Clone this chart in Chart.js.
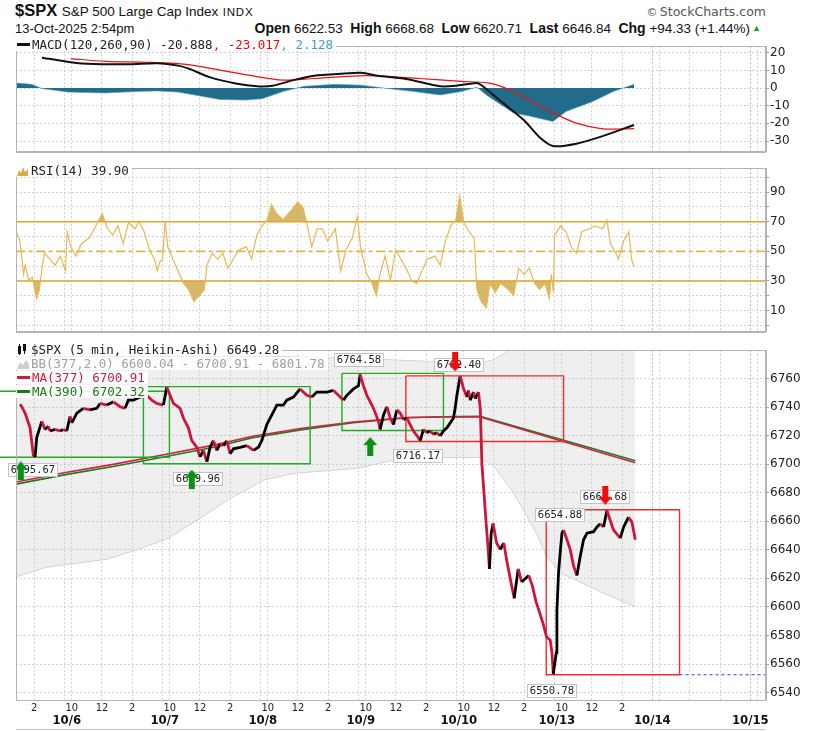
<!DOCTYPE html>
<html><head><meta charset="utf-8">
<script src="https://cdn.jsdelivr.net/npm/chart.js@4.4.1/dist/chart.umd.min.js"></script>
<style>
html,body{margin:0;padding:0;background:#fff;}
#wrap{position:relative;width:822px;height:731px;overflow:hidden;background:#fff;}
canvas{position:absolute;left:0;display:block;}
.t{position:absolute;white-space:nowrap;color:#111;font-family:'Liberation Sans',Arial,sans-serif;}
.lg{position:absolute;left:16px;white-space:nowrap;font:12.5px 'DejaVu Sans Mono',monospace;line-height:13px;background:rgba(255,255,255,0.92);padding:0 3px 0 1px;color:#222;}
.sw{display:inline-block;width:13px;height:3px;vertical-align:middle;margin:0 2px 2px 0;}
b{font-weight:bold;}
</style></head><body>
<div id="wrap">
  <canvas id="macd" width="822" height="122" style="top:38px"></canvas>
  <canvas id="rsi" width="822" height="180" style="top:160px"></canvas>
  <canvas id="price" width="822" height="389" style="top:342px"></canvas>
  <div style="position:absolute;left:16px;top:729px;width:750px;height:1px;background:#c8c8c8;"></div>

  <div class="t" style="left:15px;top:1px;"><span style="font-weight:bold;font-size:16.5px;">$SPX</span> <span style="font-size:13.5px;">S&amp;P 500 Large Cap Index</span> <span style="font-size:11.5px;letter-spacing:0.8px;">INDX</span></div>
  <div class="t" style="left:15px;top:21px;font-size:13px;">13-Oct-2025 2:54pm</div>
  <div class="t" style="right:72px;top:20px;font-size:13.5px;"><b style="font-size:14px">Open</b> 6622.53&nbsp; <b style="font-size:14px">High</b> 6668.68&nbsp; <b style="font-size:14px">Low</b> 6620.71&nbsp; <b style="font-size:14px">Last</b> 6646.84&nbsp; <b style="font-size:14px">Chg</b> +94.33 (+1.44%)</div>
  <div class="t" style="left:752px;top:23px;font-size:9px;color:#1a9a3a;">&#9650;</div>
  <div class="t" style="right:56px;top:4px;font:12.5px 'DejaVu Sans',sans-serif;color:#555;"><span style="font-size:11px">&copy;</span>&thinsp;StockCharts.com</div>

  <div class="lg" style="top:38px;"><span class="sw" style="background:#111"></span>MACD(120,260,90) -20.888<span style="color:#f00">, -23.017</span><span style="color:#3b9fd6">, 2.128</span></div>
  <div class="lg" style="top:164px;"><svg width="12" height="10" style="vertical-align:-1px;margin-right:2px"><path d="M0 10 L2 4 L4 7 L6 1 L8 6 L11 3 L11 10Z" fill="#d6ae46"/></svg>RSI(14) 39.90</div>
  <div class="lg" style="top:343px;"><svg width="12" height="11" style="vertical-align:-1px;margin-right:2px"><rect x="1" y="2" width="3" height="8" fill="#111"/><rect x="6" y="0" width="3" height="7" fill="#111"/><rect x="2" y="0" width="1" height="11" fill="#111"/><rect x="7" y="0" width="1" height="10" fill="#111"/></svg>$SPX (5 min, Heikin-Ashi) 6649.28</div>
  <div class="lg" style="top:357px;color:#a0a0a0;"><svg width="12" height="10" style="vertical-align:-1px;margin-right:2px"><path d="M0 10 L3 3 L6 6 L9 1 L12 5 L12 10Z" fill="#cfcfcf"/></svg>BB(377,2.0) 6600.04 - 6700.91 - 6801.78</div>
  <div class="lg" style="top:371px;color:#d01c3c;"><span class="sw" style="background:#d01c3c"></span>MA(377) 6700.91</div>
  <div class="lg" style="top:385px;color:#1d7a1d;"><span class="sw" style="background:#1d7a1d"></span>MA(390) 6702.32</div>
</div>
<script>
// ---------------- data ----------------
const barsPerDay = 78;                       // 5-min bars per session (9:30-16:00)
const dayNames  = ['10/3','10/6','10/7','10/8','10/9','10/10','10/13','10/14','10/15'];
const dayIndex  = [-1, 0, 1, 2, 3, 4, 5, 6, 7];
const lastTradingDay = 5;
const hourLabels  = ['10','12','2'];
const hourOffsets = [6, 30, 54];             // bars after 9:30
const xRange = [-38.4, 558.5];               // bar index range shown

// price (Heikin-Ashi close path), x = bar index from 10/6 09:30
const priceX = [-35.2,-33.8,-31.2,-27.2,-24.6,-23.2,-21.9,-17.9,-15.3,-12.7,-11.3,-7.3,-3.3,-0.7,2.0,4.6,6.0,10.0,15.2,20.5,25.9,28.5,33.8,39.1,44.4,48.4,51.0,55.0,60.4,65.7,69.7,73.6,78.9,81.6,84.2,86.9,92.2,94.8,98.8,101.5,105.5,108.1,110.7,113.5,116.1,118.7,121.4,124.0,126.7,129.4,132.0,134.6,140.0,145.3,150.6,154.5,157.2,161.2,165.2,169.2,174.4,177.1,182.4,187.7,193.1,197.1,201.0,203.7,209.0,214.3,219.6,222.2,224.9,230.2,234.2,235.5,238.1,240.8,243.5,246.1,250.1,251.4,254.1,256.8,259.4,262.0,264.7,267.4,270.0,272.7,275.3,277.9,281.9,283.3,285.9,288.6,291.2,293.9,296.6,299.2,301.8,304.5,307.2,309.8,311.1,312.5,315.1,317.8,320.5,321.7,323.1,325.7,327.1,329.7,331.1,332.4,335.6,337.0,338.4,339.8,341.3,344.1,347.0,349.8,352.5,355.5,358.1,361.3,364.0,366.9,369.7,372.4,375.4,378.0,381.2,383.9,386.8,388.2,389.2,391.6,392.1,393.4,394.7,396.1,397.4,400.1,402.7,405.3,408.0,410.7,413.3,416.0,421.3,424.0,426.6,429.2,431.9,434.5,437.2,442.5,445.2,449.1,451.8,454.5];
const priceY = [6742,6740.2,6735.7,6725.4,6706.1,6705,6718.6,6730,6724.3,6726.6,6723.2,6724.3,6723.2,6724.3,6723.2,6733.4,6728.9,6735.7,6739.1,6738,6739.1,6742.5,6741.4,6743.6,6740.2,6739.1,6744.8,6744.8,6747,6748.2,6744.8,6742.5,6741.4,6753.9,6748.2,6742.5,6739.1,6732.3,6725.4,6716.4,6711.8,6705,6709.6,6701.6,6711.8,6716.4,6709.6,6714.1,6713,6716.4,6707.3,6710.7,6711.8,6713,6709.6,6711.8,6716.4,6727.7,6734.5,6741.4,6741.4,6744.8,6747,6752.7,6748.2,6747,6750.5,6750.5,6750.5,6751.6,6747,6744.8,6748.2,6752.7,6755,6762.9,6755,6748.2,6743.6,6739.1,6730,6724.3,6734.5,6740.2,6732.3,6727.7,6738,6735.7,6731.2,6732.3,6727.7,6723.2,6718.6,6716.4,6724.3,6722,6723.2,6720.9,6722,6719.8,6723.2,6725.4,6728.9,6732.3,6739.1,6748.2,6761.8,6752.7,6747,6751.6,6744.8,6750.5,6745.9,6750.5,6739.1,6700,6660.7,6644.8,6626.6,6651.6,6658.4,6644.8,6640.2,6644.8,6631,6617.5,6606,6626.6,6617.5,6619.8,6622,6615.3,6603.9,6597,6588,6578.9,6576.6,6567.6,6553,6568,6597,6624.3,6637.9,6651.6,6653.8,6647,6640.2,6628.9,6622,6635.7,6647,6651.6,6652.7,6656,6658.3,6656,6667.5,6660.7,6653.8,6648.2,6656,6662.8,6659.4,6647];

const maX   = [-38.4,0,40,76,120,150,188,230,273,300,331,454.5];
const ma377 = [6687.5,6694,6700,6706,6713.5,6719.5,6725,6729.5,6732.7,6733,6733,6700.9];
const ma390 = [6686,6692.5,6698.5,6704.5,6712,6718.5,6724,6729,6732.5,6733.2,6733.5,6702.3];

const bbX     = [-38.4,-14.5,5.4,34.1,62.7,82.6,108.1,131.2,147.9,159.1,184.6,233.1,261.8,290.5,330.3,341.5,358.2,375.7,383.6,394.7,426.6,454.5];
const bbUpper = [6782,6781,6780,6780,6779,6778,6778,6777,6777,6776,6775,6774,6773,6772,6771,6773,6782,6794,6804,6812,6807,6801.8];
const bbLower = [6621,6627.7,6630,6633.4,6641.4,6648,6662,6675.5,6683.5,6689,6693.7,6697,6702.7,6704.6,6704.6,6699,6679,6651.6,6636,6624,6610.7,6600];

const rsiX = [-38.6,-35.3,-33.6,-32.4,-31.1,-28.2,-25.3,-23.6,-21.9,-19.8,-17.7,-15.7,-11.5,-7.3,-3.1,1.0,2.3,5.2,9.4,13.5,19.8,24.0,30.2,34.4,38.6,42.7,46.9,51.1,56.5,59.4,63.6,67.8,71.9,74.0,76.1,78.2,80.3,82.4,86.5,90.7,94.9,99.0,103.2,107.4,111.5,113.6,117.8,122.0,126.1,130.3,134.5,138.7,144.9,149.1,153.3,157.4,161.6,165.0,169.1,174.1,180.4,185.8,190.0,192.9,197.0,201.2,205.4,209.6,215.8,220.0,224.2,229.2,233.3,235.8,240.8,245.0,248.3,251.3,255.4,259.6,263.8,268.0,272.1,276.3,280.5,284.6,288.8,295.1,299.2,303.4,307.6,311.7,314.7,318.0,322.2,326.3,328.4,331.8,335.9,338.8,343.0,347.2,353.4,357.6,361.8,365.9,370.1,374.3,378.5,382.6,386.0,387.6,389.3,390.2,395.2,399.3,403.5,407.7,411.8,418.1,422.3,428.5,431.9,434.8,439.0,441.0,445.2,449.4,451.5,453.5];
const rsiY = [64.2,57,44.7,34.5,40.7,30.4,32.5,24.3,18.2,24.3,38.6,48.8,44.7,40.7,46.8,36.6,63.2,53,46.8,55,59,65.2,75.4,65.2,61.1,67.2,55,69.3,65.2,70.3,63.2,50.9,44.7,36.6,42.7,44.7,70.3,53,44.7,36.6,28.4,24.3,16.1,20.2,24.3,40.7,48.8,44.7,48.8,38.6,44.7,50.9,53,44.7,61.1,67.2,71.3,81.6,75.4,71.3,77.5,83.2,79.5,69.3,53,65.2,65.2,57,65.2,36.6,50.9,59,73.4,53,34.5,28.4,20.2,34.5,46.8,30.4,50.9,44.7,38.6,30.4,28.4,36.6,44.7,46.8,40.7,57,67.2,71.3,87.3,69.3,63.2,59,24.3,16.1,12,28.4,22.2,28.4,24.3,20.2,38.6,34.5,38.6,28.4,24.3,28.4,18.2,34.5,22.2,61.1,67.2,63.2,53,48.8,63.2,65.2,67.2,65.2,70.9,55,48.8,44.7,57,63.2,44.7,39.6];
const rsiLevels = [70, 30];
const rsiMid = 50;

const macdX    = [-17.7,11.5,32.3,53.2,73.9,90.6,99.0,115.7,136.5,153.3,165.8,182.4,199.1,220.0,236.6,249.2,270.1,286.7,299.2,311.7,328.4,332.6,349.3,365.9,378.5,388.9,407.6,428.5,453.5];
const macdLine = [17.2,14,13.5,13.5,14,12.7,11,6.2,2.6,1,1.3,4.5,7,8.1,8.6,7,5.4,2.9,1,1.3,2.9,1.3,-8.5,-18.2,-28,-32.8,-31.5,-27.2,-20.9];
const signalX    = [5.2,32.3,65.7,94.8,124.0,149.0,174.1,199.1,240.8,282.5,315.9,336.8,349.3,365.9,386.8,407.6,428.5,453.5];
const signalLine = [16.7,15.1,14.6,13.5,10.2,7,4.5,5.4,7,5.4,3.8,2.9,0.5,-5.2,-13.3,-19.9,-23.1,-23];
const histX = [-38.6,-26.1,-17.7,3.0,32.3,57.2,73.9,90.6,107.3,124.0,144.9,157.5,174.1,190.8,215.8,236.6,257.5,278.3,299.2,315.9,328.4,336.8,357.6,370.1,388.9,399.3,420.2,436.9,453.5];
const histY = [2.9,2.1,-0.3,-2.3,-2.8,-2,-1.6,-2.3,-4.4,-6.5,-6.8,-6,-2,1,2.1,1.6,-0.3,-2,-3.9,-2,0.5,-4.4,-14.1,-15.8,-19,-13.3,-7.7,-2,2.1];

const priceTicks = [6540,6560,6580,6600,6620,6640,6660,6680,6700,6720,6740,6760];
const macdTicks  = [-30,-20,-10,0,10,20];
const rsiTicks   = [0,10,20,30,40,50,60,70,80,90,100];
const rsiShown   = [10,30,50,70,90];

// annotation boxes: [fromBar, toBar, topPrice, bottomPrice]
const greenBoxes = [[-52,83.7,6751.1,6704.8],[63,195.7,6754.3,6700.3],[221,301.8,6763.6,6723.6]];
const redBoxes   = [[271.9,397.4,6761.8,6715.9],[383.6,489.7,6668,6552.5]];
const supportLine = [489.7, 6552.5];
// signal arrows
const buyX  = [-34.6,101.5,243.5];   const buyY  = [6695.2,6689.5,6712.3];
const sellX = [311.1,430.6];          const sellY = [6771.6,6678.2];
// high / low labels (text, anchor bar, anchor price)
const peakText = ['6695.67','6699.96','6764.58','6716.17','6762.40','6654.88','6668.68','6550.78'];
const peakX    = [-24.8,106.5,234.2,281.3,314.3,394.7,430.6,388.1];
const peakY    = [6695.9,6689.8,6773.2,6705.5,6769.7,6664.1,6677.0,6541.4];

// ---------------- helpers ----------------
const pts = (xs, ys) => xs.map((x, i) => ({x, y: ys[i]}));
const SANS = "'DejaVu Sans', sans-serif";
const NARROW = "'Liberation Sans Narrow','DejaVu Sans Condensed','Liberation Sans',sans-serif";
const GRID = '#d2d2d2', FRAME = '#b4b4b4';
const RED = '#d0143c';

function hourTicks() {
  const out = [];
  dayIndex.forEach(d => {
    out.push({value: d * barsPerDay, lbl: '', sep: true, future: d > lastTradingDay});
    hourOffsets.forEach((o, j) => out.push({value: d * barsPerDay + o, lbl: d <= lastTradingDay ? hourLabels[j] : '', sep: false}));
  });
  return out.filter(t => t.value >= xRange[0] && t.value <= xRange[1]);
}
function dateTicks() {
  const out = [];
  dayIndex.forEach((d, i) => {
    const v = d <= lastTradingDay ? d * barsPerDay + 2 : d * barsPerDay;
    if (v >= xRange[0] && v <= xRange[1]) out.push({value: v, lbl: dayNames[i]});
  });
  return out;
}
function xAxis(showLabels) {
  return {
    type: 'linear', position: 'bottom', min: xRange[0], max: xRange[1], weight: 0,
    afterBuildTicks: s => { s.ticks = hourTicks(); },
    afterFit: s => { s.height = showLabels ? 14 : 0; },
    ticks: {display: showLabels, autoSkip: false, maxRotation: 0, padding: 2, color: '#222',
            font: {family: NARROW, size: 11, lineHeight: 1.2}, callback: (v, i, t) => t[i].lbl},
    grid: {drawTicks: false, color: c => (c.tick && c.tick.future) ? '#b8b8b8' : GRID},
    border: {display: true, color: FRAME, dash: [2, 2]}
  };
}
function yAxis(min, max, ticks, labelFn) {
  return {
    type: 'linear', position: 'right', min, max,
    afterBuildTicks: s => { s.ticks = ticks.map(v => ({value: v})); },
    afterFit: s => { s.width = 56; },
    ticks: {autoSkip: false, padding: 1, color: '#222', font: {family: SANS, size: 12},
            callback: labelFn || (v => String(v))},
    grid: {color: GRID, drawTicks: true, tickLength: 3, tickColor: '#999'},
    border: {display: true, color: FRAME, dash: [2, 2]}
  };
}
const framePlugin = {
  id: 'frame',
  afterDraw(c) {
    const a = c.chartArea, g = c.ctx;
    g.save(); g.strokeStyle = FRAME; g.lineWidth = 1; g.setLineDash([]);
    g.strokeRect(Math.round(a.left) + 0.5, Math.round(a.top) + 0.5, Math.round(a.right - a.left) - 1, Math.round(a.bottom - a.top));
    g.restore();
  }
};
function baseOptions(scales) {
  return {
    responsive: false, animation: false, devicePixelRatio: 1,
    layout: {padding: {left: 16, right: 0, top: 0, bottom: 0}},
    plugins: {legend: {display: false}, tooltip: {enabled: false}},
    elements: {point: {radius: 0}, line: {tension: 0}},
    scales
  };
}

// ---------------- MACD ----------------
new Chart(document.getElementById('macd'), {
  type: 'line',
  data: {datasets: [
    {data: pts(macdX, macdLine), borderColor: '#111', borderWidth: 2, tension: 0.25, order: 1},
    {data: pts(signalX, signalLine), borderColor: '#f01010', borderWidth: 1.2, tension: 0.3, order: 2},
    {data: pts(histX, histY), borderColor: '#4f9fc4', borderWidth: 0.6, backgroundColor: '#216c8b', fill: 'origin', order: 3}
  ]},
  options: baseOptions({x: xAxis(false), y: yAxis(-36.1, 23.7, macdTicks)}),
  plugins: [framePlugin]
});

// ---------------- RSI ----------------
const rsiPts = pts(rsiX, rsiY);
const GOLD = '#e0a524';
new Chart(document.getElementById('rsi'), {
  type: 'line',
  data: {datasets: [
    {data: rsiPts, borderColor: '#e6b954', borderWidth: 1.2, order: 1},
    {data: rsiPts, borderWidth: 0, fill: {target: {value: rsiLevels[0]}, above: 'rgba(208,172,80,0.85)', below: 'rgba(0,0,0,0)'}, order: 4},
    {data: rsiPts, borderWidth: 0, fill: {target: {value: rsiLevels[1]}, above: 'rgba(0,0,0,0)', below: 'rgba(208,172,80,0.85)'}, order: 4},
    {data: [{x: xRange[0], y: rsiLevels[0]}, {x: xRange[1], y: rsiLevels[0]}], borderColor: GOLD, borderWidth: 1.6, order: 2},
    {data: [{x: xRange[0], y: rsiLevels[1]}, {x: xRange[1], y: rsiLevels[1]}], borderColor: GOLD, borderWidth: 1.6, order: 2},
    {data: [{x: xRange[0], y: rsiMid}, {x: xRange[1], y: rsiMid}], borderColor: '#e6b547', borderWidth: 1.6, borderDash: [9, 4, 3, 4], order: 2}
  ]},
  options: baseOptions({x: xAxis(false), y: yAxis(-4.3, 106.1, rsiTicks, v => rsiShown.includes(v) ? String(v) : '')}),
  plugins: [framePlugin]
});

// ---------------- Price ----------------
function arrowCanvas(color, up) {
  const c = document.createElement('canvas'); c.width = 14; c.height = 19;
  const g = c.getContext('2d'); g.fillStyle = color; g.beginPath();
  if (up) { g.moveTo(7,0); g.lineTo(14,8); g.lineTo(10,8); g.lineTo(10,19); g.lineTo(4,19); g.lineTo(4,8); g.lineTo(0,8); }
  else    { g.moveTo(7,19); g.lineTo(14,11); g.lineTo(10,11); g.lineTo(10,0); g.lineTo(4,0); g.lineTo(4,11); g.lineTo(0,11); }
  g.closePath(); g.fill(); return c;
}
const boxPts = b => [{x: b[0], y: b[2]}, {x: b[1], y: b[2]}, {x: b[1], y: b[3]}, {x: b[0], y: b[3]}, {x: b[0], y: b[2]}];
const PRICE_INDEX = 2;
const peakLabelPlugin = {
  id: 'peakLabels',
  afterDatasetDraw(c, args) {
    if (args.index !== PRICE_INDEX) return;
    const g = c.ctx, sx = c.scales.x, sy = c.scales.y;
    g.save();
    g.font = "10.5px 'DejaVu Sans Mono',monospace";
    g.textAlign = 'center'; g.textBaseline = 'middle';
    peakText.forEach((t, i) => {
      const px = Math.round(sx.getPixelForValue(peakX[i])), py = Math.round(sy.getPixelForValue(peakY[i]));
      const w = Math.ceil(g.measureText(t).width) + 5, h = 14;
      g.fillStyle = '#fff'; g.strokeStyle = '#c4c4c4'; g.lineWidth = 1;
      g.fillRect(px - w / 2, py - h / 2, w, h);
      g.strokeRect(Math.round(px - w / 2) + 0.5, py - h / 2 + 0.5, w - 1, h - 1);
      g.fillStyle = '#222'; g.fillText(t, px, py + 0.5);
    });
    g.restore();
  }
};
new Chart(document.getElementById('price'), {
  type: 'line',
  data: {datasets: [
    {data: pts(buyX, buyY), showLine: false, pointStyle: arrowCanvas('#0b8f12', true), pointRadius: 7, order: 0},
    {data: pts(sellX, sellY), showLine: false, pointStyle: arrowCanvas('#f20d0d', false), pointRadius: 7, order: 0},
    {data: pts(priceX, priceY), borderWidth: 2.8, borderColor: '#000', order: 1,
     segment: {borderColor: s => s.p1.parsed.y < s.p0.parsed.y ? RED : '#000'}},
    ...greenBoxes.map(b => ({data: boxPts(b), borderColor: '#1fae1f', borderWidth: 1.4, clip: false, order: 2})),
    ...redBoxes.map(b => ({data: boxPts(b), borderColor: '#f42a2a', borderWidth: 1.4, order: 2})),
    {data: [{x: supportLine[0], y: supportLine[1]}, {x: xRange[1], y: supportLine[1]}], borderColor: '#2a3cff', borderWidth: 1.2, borderDash: [3, 3], order: 2},
    {data: pts(maX, ma377), borderColor: '#d81e44', borderWidth: 1.6, order: 3},
    {data: pts(maX, ma390), borderColor: '#1d7a1d', borderWidth: 1.6, order: 4},
    {data: pts(bbX, bbUpper), borderColor: '#d6d6d6', borderWidth: 1, backgroundColor: 'rgba(190,190,190,0.25)', fill: '+1', order: 6},
    {data: pts(bbX, bbLower), borderColor: '#d6d6d6', borderWidth: 1, order: 6}
  ]},
  options: baseOptions({
    x: xAxis(true),
    x2: {type: 'linear', position: 'bottom', min: xRange[0], max: xRange[1], weight: 1,
         afterBuildTicks: s => { s.ticks = dateTicks(); },
         afterFit: s => { s.height = 17; },
         ticks: {autoSkip: false, maxRotation: 0, padding: 0, color: '#111',
                 font: {family: NARROW, size: 13, weight: 'bold', lineHeight: 1}, callback: (v, i, t) => t[i].lbl},
         grid: {display: false, drawTicks: false}, border: {display: false}},
    y: yAxis(6534.8, 6779.8, priceTicks)
  }),
  plugins: [framePlugin, peakLabelPlugin]
});
</script>
</body></html>
